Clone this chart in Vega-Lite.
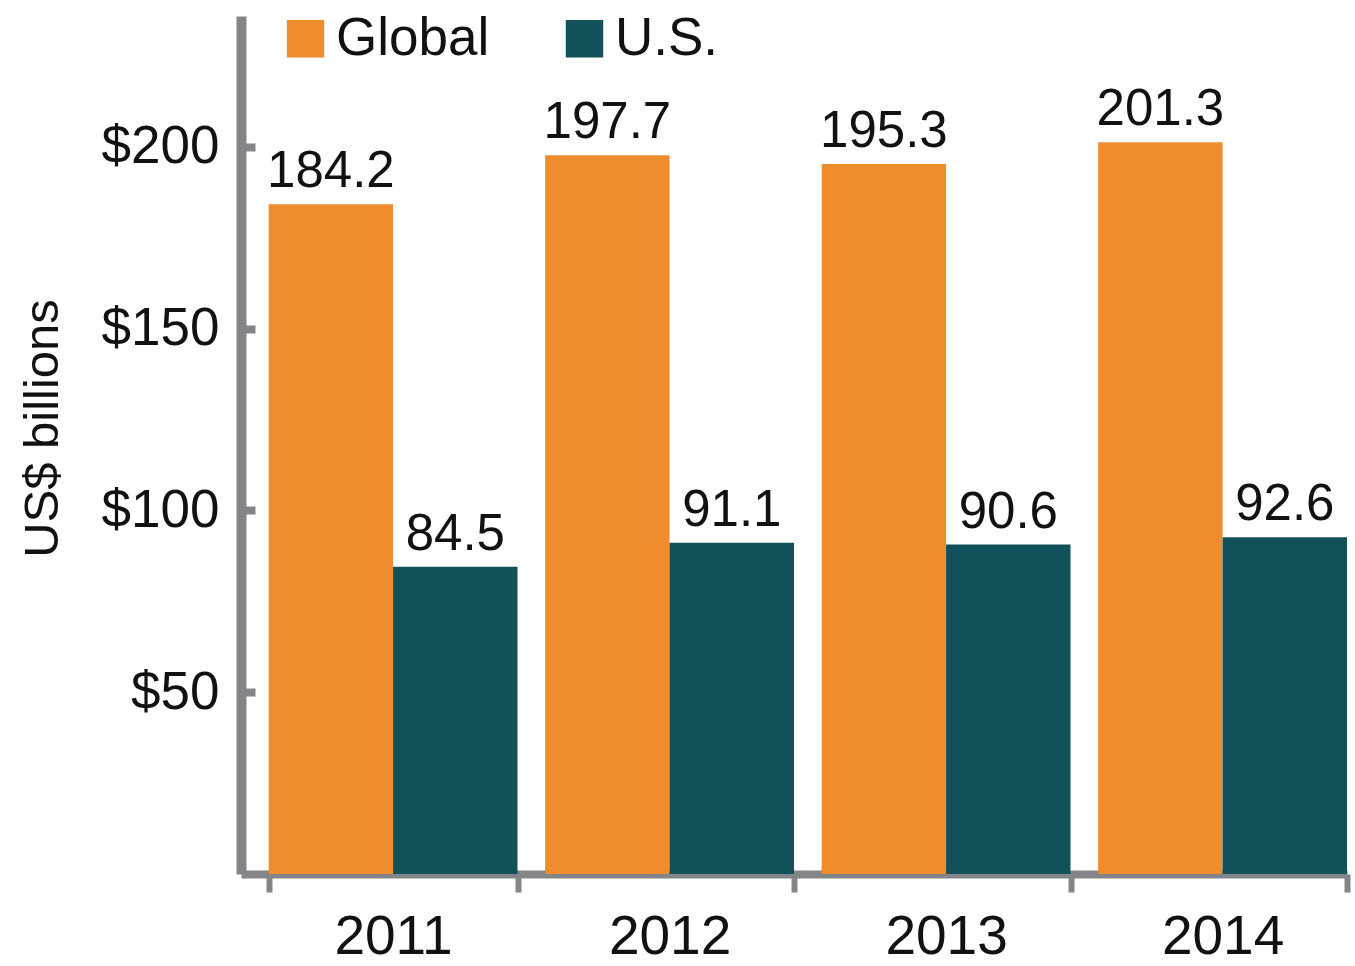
{
  "$schema": "https://vega.github.io/schema/vega-lite/v6.json",
  "autosize": {"type": "none"},
  "padding": {"left": 241, "top": 16, "right": 8, "bottom": 92},
  "width": 1106,
  "height": 858,
  "background": "white",
  "config": {
    "view": {"stroke": null},
    "font": "Liberation Sans",
    "axis": {"grid": false, "labelFont": "Liberation Sans", "titleFont": "Liberation Sans", "labelColor": "#111111", "titleColor": "#111111", "domainColor": "#848589", "tickColor": "#848589"}
  },
  "data": {
    "values": [
      {"year": "2011", "region": "Global", "value": 184.2},
      {"year": "2011", "region": "U.S.", "value": 84.5},
      {"year": "2012", "region": "Global", "value": 197.7},
      {"year": "2012", "region": "U.S.", "value": 91.1},
      {"year": "2013", "region": "Global", "value": 195.3},
      {"year": "2013", "region": "U.S.", "value": 90.6},
      {"year": "2014", "region": "Global", "value": 201.3},
      {"year": "2014", "region": "U.S.", "value": 92.6}
    ]
  },
  "encoding": {
    "x": {
      "field": "year", "type": "nominal",
      "scale": {"paddingInner": 0.1, "paddingOuter": 0.05, "align": 1},
      "axis": {
        "title": null, "labelAngle": 0, "labelFontSize": 55, "labelPadding": 18,
        "domainWidth": 8, "tickBand": "extent", "tickSize": 18, "tickWidth": 6
      }
    },
    "xOffset": {"field": "region", "type": "nominal", "scale": {"domain": ["Global", "U.S."], "paddingInner": 0}},
    "y": {
      "field": "value", "type": "quantitative",
      "scale": {"domain": [0, 236], "nice": false, "zero": true},
      "axis": {
        "title": "US$ billions", "titleFontSize": 49, "titleFontWeight": "normal", "titlePadding": 34,
        "titleY": 412,
        "values": [50, 100, 150, 200], "labelExpr": "'$' + datum.value",
        "labelFontSize": 53, "labelPadding": 36, "domainWidth": 10,
        "tickSize": -14, "tickWidth": 8
      }
    }
  },
  "layer": [
    {
      "mark": {"type": "bar"},
      "encoding": {
        "color": {
          "field": "region", "type": "nominal",
          "scale": {"domain": ["Global", "U.S."], "range": ["#EE8C2E", "#12505A"]},
          "legend": {
            "title": null, "orient": "none", "legendX": 38, "legendY": -4, "direction": "horizontal",
            "symbolType": "square", "symbolSize": 1400, "symbolStrokeWidth": 0, "symbolOpacity": 1,
            "labelFontSize": 53, "labelFont": "Liberation Sans", "labelColor": "#111111", "labelOffset": 4,
            "columnPadding": 68, "labelLimit": 400
          }
        }
      }
    },
    {
      "mark": {"type": "text", "baseline": "bottom", "dy": -6, "fontSize": 51, "font": "Liberation Sans", "color": "#111111"},
      "encoding": {
        "text": {"field": "value", "type": "quantitative", "format": ".1f"}
      }
    }
  ]
}
